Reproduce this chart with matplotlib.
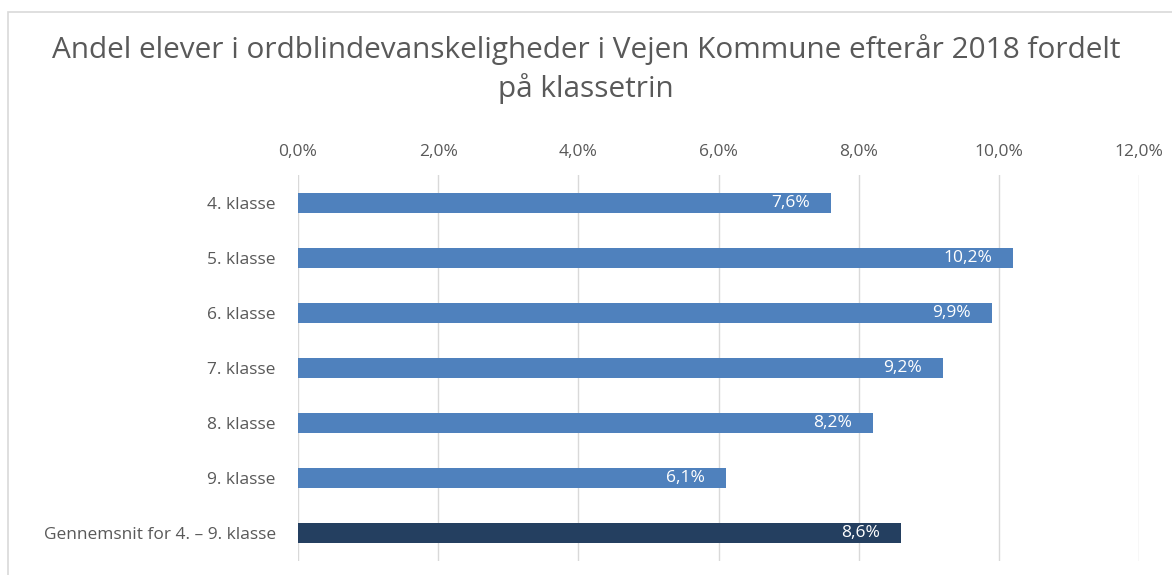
import matplotlib.pyplot as plt
import matplotlib.patches as mpatches
import numpy as np

categories = ["4. klasse", "5. klasse", "6. klasse", "7. klasse", "8. klasse", "9. klasse",
              "Gennemsnit for 4. \u2013 9. klasse"]
values = [7.6, 10.2, 9.9, 9.2, 8.2, 6.1, 8.6]
labels = ["7,6%", "10,2%", "9,9%", "9,2%", "8,2%", "6,1%", "8,6%"]
ticks = [0, 2, 4, 6, 8, 10, 12]
tick_labels = ["0,0%", "2,0%", "4,0%", "6,0%", "8,0%", "10,0%", "12,0%"]

plt.rcParams['font.family'] = ['Open Sans', 'DejaVu Sans']
grey = "#595959"

fig = plt.figure(figsize=(11.72, 5.75), dpi=100)
# chart frame
fig.patches.append(mpatches.Rectangle((8 / 1172, -0.1), 1.2, 1 - 12 / 575 + 0.1,
                                      transform=fig.transFigure, fill=False,
                                      edgecolor="#D9D9D9", linewidth=1.2))

ax = fig.add_axes([298 / 1172, 1 - 560.5 / 575, (1139 - 298) / 1172, 385 / 575])
y = np.arange(len(categories))
colors = ["#4F81BD"] * (len(categories) - 1) + ["#243F60"]
ax.barh(y, values, height=0.36, color=colors, zorder=3)
for yi, v, lab in zip(y, values, labels):
    ax.text(v - 0.3, yi, lab, ha="right", va="center", color="white", fontsize=12.5, zorder=4)

ax.set_ylim(len(categories) - 0.5, -0.5)
ax.set_xlim(0, 12)
ax.set_xticks(ticks)
ax.set_xticklabels(tick_labels)
ax.xaxis.tick_top()
ax.set_yticks(y)
ax.set_yticklabels(categories)
ax.tick_params(axis="both", length=0, colors=grey, labelsize=12.5)
ax.tick_params(axis="x", pad=11)
ax.tick_params(axis="y", pad=16)
ax.grid(axis="x", color="#D9D9D9", linewidth=1, zorder=0)
for s in ax.spines.values():
    s.set_visible(False)

fig.text(0.5, 1 - 69 / 575, "Andel elever i ordblindevanskeligheder i Vejen Kommune efterår 2018 fordelt\npå klassetrin",
         ha="center", va="center", fontsize=21.4, color=grey, linespacing=1.35)

plt.savefig("out.png", dpi=100)
